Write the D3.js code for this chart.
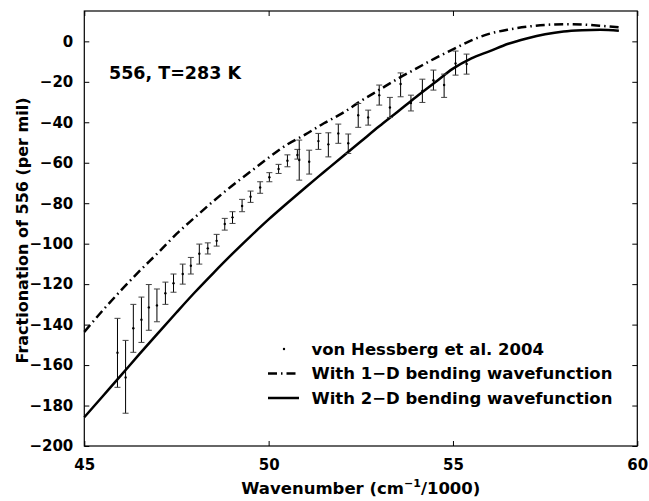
<!DOCTYPE html>
<html><head><meta charset="utf-8">
<script src="https://cdn.jsdelivr.net/npm/d3@7"></script>
<style>
body{margin:0;background:#fff}
text{font-family:"DejaVu Sans",sans-serif;font-weight:bold;fill:#000}
</style>
</head><body><svg id="c" width="649" height="501"></svg>
<script>
// ---- data ----
const xTicks = [45, 50, 55, 60];
const yTicks = [0, -20, -40, -60, -80, -100, -120, -140, -160, -180, -200];
const curveX = [45,45.5,46,46.5,47,47.5,48,48.5,49,49.5,50,50.5,51,51.5,52,52.5,53,53.5,54,54.5,55,55.5,56,56.5,57,57.5,58,58.5,59,59.5];
const oneD   = [-143.6,-133,-123,-113.5,-104.5,-95.2,-87,-79,-71.5,-64.5,-57.5,-51,-46,-40.5,-35.5,-29.5,-24,-18.5,-13.5,-8.5,-4,0.5,3.8,5.8,7.2,8.1,8.5,8.3,7.7,6.9];
const twoD   = [-185.8,-175.4,-165,-154.5,-144.2,-134,-124,-114.5,-105.3,-96.5,-88,-80,-72.2,-64.6,-57,-49.5,-42,-34.8,-27.5,-20.5,-13.5,-8.4,-4.8,-1.2,1.4,3.5,4.9,5.5,5.7,5.2];
const obsX  = [45.90,46.12,46.33,46.55,46.75,46.97,47.20,47.42,47.67,47.89,48.12,48.35,48.59,48.81,49.02,49.28,49.51,49.77,50.02,50.27,50.51,50.78,50.83,51.10,51.35,51.62,51.89,52.16,52.43,52.70,53.00,53.29,53.58,53.86,54.17,54.47,54.76,55.07,55.37];
const obsY  = [-153.9,-166.1,-141.8,-137.6,-131.5,-130.5,-124.5,-119.5,-115.0,-110.9,-105.0,-102.3,-98.6,-90.3,-87.0,-81.4,-76.8,-72.2,-67.2,-63.1,-59.0,-56.2,-58.7,-59.5,-49.3,-50.9,-45.5,-50.4,-36.5,-37.6,-26.6,-32.7,-21.1,-30.5,-24.5,-19.2,-21.6,-10.9,-11.2];
const obsLo = [-171.0,-183.8,-153.7,-148.8,-142.8,-138.6,-130.0,-124.0,-120.0,-115.0,-110.1,-105.1,-101.2,-93.3,-90.0,-84.2,-79.6,-75.1,-69.4,-65.3,-62.0,-58.2,-68.6,-65.6,-53.4,-57.1,-50.4,-55.4,-42.5,-41.4,-31.5,-37.6,-27.4,-34.4,-30.2,-24.1,-27.7,-16.7,-16.2];
const obsHi = [-136.9,-147.8,-130.0,-126.4,-120.2,-122.4,-119.0,-115.0,-110.1,-106.8,-100.2,-99.6,-95.4,-87.5,-84.2,-78.1,-74.0,-69.4,-64.9,-60.8,-56.1,-53.4,-48.8,-53.8,-45.5,-45.2,-40.9,-45.8,-30.7,-34.0,-21.6,-27.7,-15.6,-26.6,-18.7,-14.2,-16.2,-4.8,-6.3];
const legendLabels = ["von Hessberg et al. 2004", "With 1\u2212D bending wavefunction", "With 2\u2212D bending wavefunction"];
const annotation = "556, T=283 K";
const xTitle = "Wavenumber (cm", xSup = "\u22121", xTitleEnd = "/1000)";
const yTitle = "Fractionation of 556 (per mil)";

// ---- layout ----
const L = 84.3, R = 637.3, T = 11, B = 446;
const svg = d3.select("#c");
const x = d3.scaleLinear().domain([45, 60]).range([L, R]);
const y = d3.scaleLinear().domain([-200, 15]).range([B, T]);

// frame
svg.append("rect").attr("x", L).attr("y", T).attr("width", R - L).attr("height", B - T)
  .attr("fill", "none").attr("stroke", "#000").attr("stroke-width", 1.2);

// axes (ticks inward)
const ax = (g, axis) => { g.call(axis); g.select(".domain").remove(); g.selectAll(".tick line").attr("stroke","#000").attr("stroke-width",1); };
svg.append("g").attr("transform", `translate(0,${B})`)
  .call(g => ax(g, d3.axisBottom(x).tickValues(xTicks).tickSizeInner(-5).tickSizeOuter(0).tickPadding(13).tickFormat(d3.format("d"))))
  .selectAll("text").attr("font-size", 15).attr("font-family", "DejaVu Sans").attr("font-weight","bold");
svg.append("g").attr("transform", `translate(0,${T})`)
  .call(g => ax(g, d3.axisTop(x).tickValues(xTicks).tickSizeInner(-5).tickSizeOuter(0).tickFormat("")));
svg.append("g").attr("transform", `translate(${L},0)`)
  .call(g => ax(g, d3.axisLeft(y).tickValues(yTicks).tickSizeInner(-5).tickSizeOuter(0).tickPadding(11).tickFormat(d => d < 0 ? "\u2212" + Math.abs(d) : d)))
  .selectAll("text").attr("font-size", 15).attr("font-family", "DejaVu Sans").attr("font-weight","bold");
svg.append("g").attr("transform", `translate(${R},0)`)
  .call(g => ax(g, d3.axisRight(y).tickValues(yTicks).tickSizeInner(-5).tickSizeOuter(0).tickFormat("")));

// curves
const line = d3.line().x((d, i) => x(curveX[i])).y(d => y(d)).curve(d3.curveMonotoneX);
svg.append("path").datum(oneD).attr("d", line).attr("fill", "none").attr("stroke", "#000")
  .attr("stroke-width", 2.5).attr("stroke-dasharray", "9,4,1.5,4");
svg.append("path").datum(twoD).attr("d", line).attr("fill", "none").attr("stroke", "#000")
  .attr("stroke-width", 2.5);

// error bars
const eb = svg.append("g").attr("stroke", "#000").attr("stroke-width", 1);
obsX.forEach((xv, i) => {
  const cx = x(xv);
  eb.append("line").attr("x1", cx).attr("x2", cx).attr("y1", y(obsLo[i])).attr("y2", y(obsHi[i]));
  eb.append("line").attr("x1", cx - 3).attr("x2", cx + 3).attr("y1", y(obsLo[i])).attr("y2", y(obsLo[i])).attr("stroke","#444");
  eb.append("line").attr("x1", cx - 3).attr("x2", cx + 3).attr("y1", y(obsHi[i])).attr("y2", y(obsHi[i])).attr("stroke","#444");
});
svg.append("g").selectAll("circle").data(obsX).join("circle")
  .attr("cx", d => x(d)).attr("cy", (d, i) => y(obsY[i])).attr("r", 1.2).attr("fill", "#000");

// annotation
svg.append("text").attr("x", 109).attr("y", 79).attr("font-size", 17.5).text(annotation);

// legend
const lg = svg.append("g");
const rowY = [349, 373.5, 398];
legendLabels.forEach((t, i) => {
  lg.append("text").attr("x", 311.5).attr("y", rowY[i]).attr("dy", "0.36em").attr("font-size", 16.5).text(t);
});
lg.append("circle").attr("cx", 284).attr("cy", rowY[0]).attr("r", 1.2).attr("fill", "#000");
lg.append("line").attr("x1", 268).attr("x2", 299).attr("y1", rowY[1]).attr("y2", rowY[1])
  .attr("stroke", "#000").attr("stroke-width", 2.5).attr("stroke-dasharray", "9,4,1.5,4");
lg.append("line").attr("x1", 268).attr("x2", 299).attr("y1", rowY[2]).attr("y2", rowY[2])
  .attr("stroke", "#000").attr("stroke-width", 2.5);

// axis titles
const xt = svg.append("text").attr("x", (L + R) / 2).attr("y", 494).attr("text-anchor", "middle").attr("font-size", 16.5);
xt.append("tspan").text(xTitle);
xt.append("tspan").attr("dy", -7).attr("font-size", 11).text(xSup);
xt.append("tspan").attr("dy", 7).text(xTitleEnd);
svg.append("text").attr("transform", `translate(28,${(T + B) / 2 + 2}) rotate(-90)`)
  .attr("text-anchor", "middle").attr("font-size", 16).text(yTitle);
</script></body></html>
